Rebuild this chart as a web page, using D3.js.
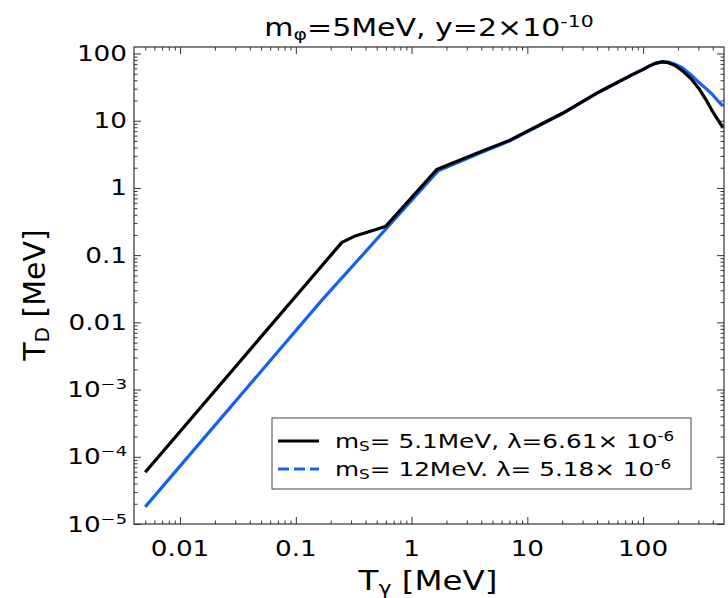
<!DOCTYPE html>
<html>
<head>
<meta charset="utf-8">
<script src="https://cdn.jsdelivr.net/npm/d3@7"></script>
<style>
  body { margin: 0; background: #fff; }
  text { font-family: "DejaVu Sans", sans-serif; fill: #000; }
</style>
</head>
<body>
<div id="chart"></div>
<script>
// data (T_gamma in MeV, T_D in MeV)
var blackX = [0.005, 0.25, 0.33, 0.5, 0.6, 1.65, 4.0, 7, 20, 42, 80, 100, 115, 130, 146, 165, 190, 217, 260, 304, 350, 394, 440, 490];
var blackY = [5.9e-5, 0.155, 0.195, 0.243, 0.27, 1.88, 3.5, 5.1, 12.8, 27, 48, 58, 66, 72, 75, 73, 66, 56, 42, 30, 20.5, 14.2, 10.5, 7.9];
var blueX = [0.005, 0.168, 1.7, 4.0, 7, 20, 42, 80, 100, 115, 130, 146, 165, 190, 217, 260, 304, 350, 394, 440, 490];
var blueY = [1.8e-5, 0.0214, 1.8, 3.35, 5.0, 12.8, 27, 48, 58, 66, 72, 75.5, 74.5, 69, 62, 48, 37, 30, 25, 20, 16.5];

var xTicks = [0.01, 0.1, 1, 10, 100];
var xTickLabels = ["0.01", "0.1", "1", "10", "100"];
var yTicks = [1e-5, 1e-4, 1e-3, 0.01, 0.1, 1, 10, 100];
var yTickLabels = [["10", "\u22125"], ["10", "\u22124"], ["10", "\u22123"], ["0.01"], ["0.1"], ["1"], ["10"], ["100"]];

var w = 728, h = 598;
var pLeft = 134, pRight = 724, pTop = 47, pBottom = 524;
var sx = 1.25; // text in the picture is stretched sideways

var svg = d3.select('#chart')
  .append("svg")
  .attr("width", w)
  .attr("height", h);

var x = d3.scaleLog().domain([0.004, 500]).range([pLeft, pRight]);
var y = d3.scaleLog().domain([1e-5, 125]).range([pBottom, pTop]);

function minors(lo, hi) {
  var out = [];
  for (var e = Math.floor(Math.log10(lo)); e <= Math.ceil(Math.log10(hi)); e++) {
    for (var k = 2; k <= 9; k++) {
      var v = k * Math.pow(10, e);
      if (v > lo && v < hi) out.push(v);
    }
  }
  return out;
}

// curves
var line = d3.line().curve(d3.curveLinear);
svg.append("path")
  .attr("d", line(blueX.map(function(d, i){ return [x(d), y(blueY[i])]; })))
  .attr("fill", "none").attr("stroke", "#1463f0").attr("stroke-width", 3.2)
  .attr("stroke-linejoin", "round");
svg.append("path")
  .attr("d", line(blackX.map(function(d, i){ return [x(d), y(blackY[i])]; })))
  .attr("fill", "none").attr("stroke", "#000").attr("stroke-width", 3.2)
  .attr("stroke-linejoin", "round");

// ticks on all four sides, pointing inward
function drawAxis(axis, tr, vals, size) {
  var g = svg.append("g").attr("transform", tr)
    .call(axis.tickValues(vals).tickSizeInner(size).tickSizeOuter(0).tickFormat(""));
  g.select(".domain").remove();
  g.selectAll("line").attr("stroke", "#333").attr("stroke-width", 1);
}
var xMin = minors(0.004, 500), yMin = minors(1e-5, 125);
drawAxis(d3.axisBottom(x), "translate(0," + pBottom + ")", xTicks, -7);
drawAxis(d3.axisBottom(x), "translate(0," + pBottom + ")", xMin, -3.5);
drawAxis(d3.axisTop(x), "translate(0," + pTop + ")", xTicks, -7);
drawAxis(d3.axisTop(x), "translate(0," + pTop + ")", xMin, -3.5);
drawAxis(d3.axisLeft(y), "translate(" + pLeft + ",0)", yTicks, -7);
drawAxis(d3.axisLeft(y), "translate(" + pLeft + ",0)", yMin, -3.5);
drawAxis(d3.axisRight(y), "translate(" + pRight + ",0)", yTicks, -7);
drawAxis(d3.axisRight(y), "translate(" + pRight + ",0)", yMin, -3.5);

svg.append("rect")
  .attr("x", pLeft).attr("y", pTop)
  .attr("width", pRight - pLeft).attr("height", pBottom - pTop)
  .attr("fill", "none").attr("stroke", "#333").attr("stroke-width", 1.2);

// stretched text helper
function label(px, py, anchor, size, parts) {
  var t = svg.append("g")
    .attr("transform", "translate(" + px + "," + py + ") scale(" + sx + ",1)")
    .append("text")
    .attr("text-anchor", anchor)
    .style("font-size", size + "px");
  parts.forEach(function(p){
    var s = t.append("tspan").text(p.t);
    if (p.sub) s.attr("baseline-shift", "-22%").style("font-size", (size * 0.68) + "px");
    if (p.sup) s.attr("baseline-shift", "55%").style("font-size", (size * 0.68) + "px");
  });
  return t;
}

xTicks.forEach(function(v, i){
  label(x(v), 556, "middle", 21, [{t: xTickLabels[i]}]);
});
yTicks.forEach(function(v, i){
  var lab = yTickLabels[i];
  var parts = [{t: lab[0]}];
  if (lab[1]) parts.push({t: lab[1], sup: true});
  label(127, y(v) + 7.5, "end", 21, parts);
});

// title and axis titles
label(429, 36, "middle", 24, [{t: "m"}, {t: "\u03c6", sub: true}, {t: "=5MeV, y=2\u00d710"}, {t: "-10", sup: true}]);
label(428, 590, "middle", 26, [{t: "T"}, {t: "\u03b3", sub: true}, {t: " [MeV]"}]);

var yl = svg.append("text")
  .attr("transform", "translate(45,295) rotate(-90)")
  .attr("text-anchor", "middle")
  .style("font-size", "30px");
yl.append("tspan").text("T");
yl.append("tspan").text("D").attr("baseline-shift", "-22%").style("font-size", "20px");
yl.append("tspan").text(" [MeV]");

// legend
var lg = svg.append("g");
lg.append("rect").attr("x", 272).attr("y", 418).attr("width", 419).attr("height", 71)
  .attr("fill", "#fff").attr("stroke", "#444").attr("stroke-width", 1);
lg.append("line").attr("x1", 278).attr("x2", 319).attr("y1", 441).attr("y2", 441)
  .attr("stroke", "#000").attr("stroke-width", 3);
lg.append("line").attr("x1", 278).attr("x2", 319).attr("y1", 469).attr("y2", 469)
  .attr("stroke", "#1463f0").attr("stroke-width", 3).attr("stroke-dasharray", "11,5");
label(335, 448, "start", 19.8, [{t: "m"}, {t: "S", sub: true}, {t: "= 5.1MeV, \u03bb=6.61\u00d7 10"}, {t: "-6", sup: true}]);
label(335, 476, "start", 19.8, [{t: "m"}, {t: "S", sub: true}, {t: "= 12MeV. \u03bb= 5.18\u00d7 10"}, {t: "-6", sup: true}]);
</script>
</body>
</html>
